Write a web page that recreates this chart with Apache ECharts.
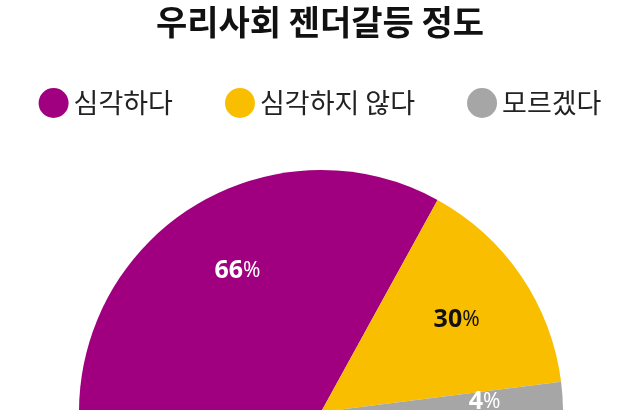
<!DOCTYPE html><html><head><meta charset="utf-8">
<script src="https://cdn.jsdelivr.net/npm/echarts@6/dist/echarts.min.js"></script>
<style>body{margin:0}#c{width:640px;height:410px}</style></head><body><div id="c"></div>
<script>
const categories=['심각하다','심각하지 않다','모르겠다'];
const values=[66,30,4];
const colors=['#a0007f','#f9be00','#a6a6a6'];
const labelColors=['#fff','#111','#fff'];
const chart=echarts.init(document.getElementById('c'));
const rich=i=>({v:{fontSize:25,fontWeight:'bold',color:labelColors[i],fontFamily:'Noto Sans'},p:{fontSize:21,color:labelColors[i],fontFamily:'Noto Sans'}});
chart.setOption({
 title:{text:'우리사회 젠더갈등 정도',left:'center',top:0,textStyle:{fontSize:34,fontWeight:'bold',color:'#111',fontFamily:'Noto Sans CJK KR'}},
 legend:{data:categories,top:83,left:'center',itemGap:52,icon:'circle',itemWidth:30,itemHeight:30,textStyle:{fontSize:27,color:'#222',fontFamily:'Noto Sans CJK KR'}},
 series:[
 {type:'pie',center:[321,412],radius:[0,242],startAngle:180,endAngle:0,silent:true,
  label:{show:false},labelLine:{show:false},
  data:categories.map((n,i)=>({name:n,value:values[i],itemStyle:{color:colors[i]}}))},
 {type:'pie',center:[321,412],radius:[0,322],startAngle:180,endAngle:0,silent:true,z:5,legendHoverLink:false,
  label:{position:'inside',formatter:p=>'{v|'+p.value+'}{p|%}'},labelLine:{show:false},
  data:categories.map((n,i)=>({name:n+' ',value:values[i],itemStyle:{color:'transparent'},label:{rich:rich(i)}}))}
 ]
});
</script></body></html>
